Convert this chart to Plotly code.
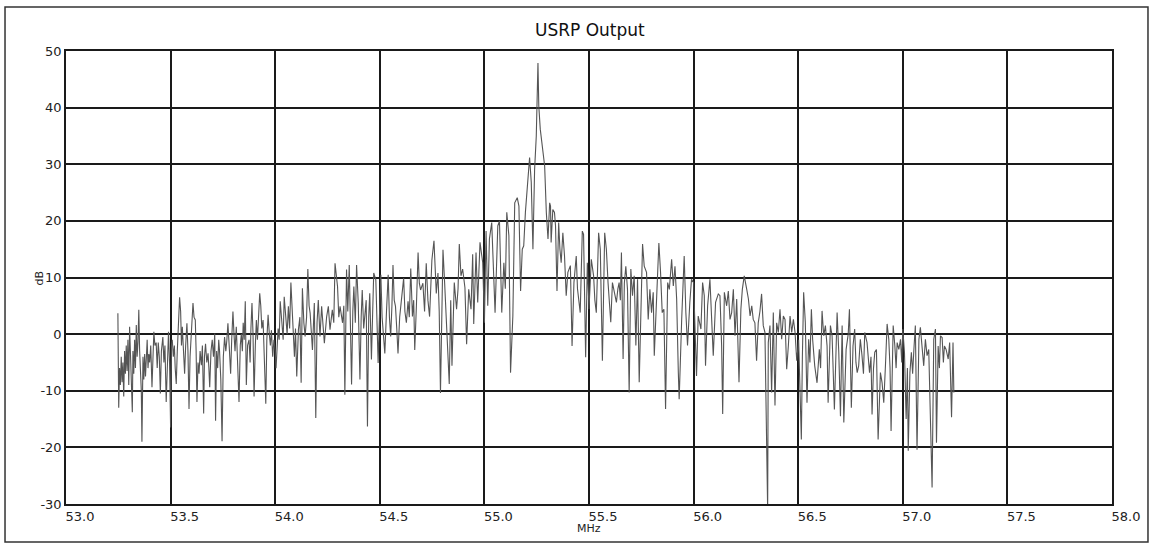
import numpy as np
import plotly.graph_objects as go

# USRP receive spectrum, carrier near 55.25 MHz, 4 MHz span.
# Each band: frequency (MHz) and level (dB).
band1_mhz = [
    53.248, 53.252, 53.256, 53.260, 53.264, 53.268, 53.272, 53.276, 53.280, 53.284,
    53.288, 53.292, 53.296, 53.300, 53.304, 53.310, 53.317, 53.320, 53.324, 53.328,
    53.332, 53.336, 53.340, 53.344, 53.348, 53.352, 53.356, 53.360, 53.363, 53.368,
    53.372, 53.376, 53.380, 53.384, 53.388, 53.392, 53.396, 53.400, 53.405, 53.411,
    53.416, 53.420, 53.425, 53.431, 53.436, 53.441, 53.446, 53.451, 53.456, 53.463,
    53.468, 53.473, 53.479, 53.484, 53.490, 53.495, 53.500, 53.504, 53.508, 53.513,
    53.518, 53.522, 53.527, 53.532, 53.538, 53.543, 53.548, 53.552, 53.556, 53.562,
    53.567, 53.572, 53.578, 53.583, 53.588, 53.593, 53.598, 53.603, 53.607, 53.612,
    53.618, 53.622, 53.626, 53.631, 53.636, 53.641, 53.647, 53.652, 53.658, 53.662,
    53.667, 53.673, 53.679, 53.683, 53.687, 53.693, 53.699, 53.705, 53.711, 53.715,
    53.720, 53.725, 53.730, 53.734, 53.740, 53.746, 53.752, 53.758, 53.764, 53.769,
    53.774, 53.780, 53.787, 53.792, 53.798, 53.803, 53.808, 53.814, 53.820, 53.827,
    53.833, 53.838, 53.843, 53.847, 53.852, 53.857, 53.862, 53.868, 53.875, 53.880,
    53.884, 53.889, 53.894, 53.899, 53.905, 53.910, 53.915, 53.920, 53.926, 53.931,
    53.936, 53.942, 53.948, 53.955, 53.960, 53.966, 53.972, 53.977, 53.982, 53.988,
    53.994,
]
band1_db = [
    3.7, -13.0, -6.0, -9.0, -4.0, -8.5, -5.0, -11.0, -3.0, -7.0,
    -2.0, -6.5, -1.0, -9.0, 1.3, -5.0, -13.8, -3.0, -7.0, -1.0,
    -6.0, 1.6, -4.0, -1.5, 4.3, -3.0, -8.0, -10.0, -19.0, -4.0,
    -8.0, -3.5, -7.5, -5.0, -1.0, -6.0, -3.5, -5.0, -2.0, -9.4,
    -3.0, 0.4, -2.0, -1.5, -6.0, -1.5, -4.0, -10.5, -3.0, -0.5,
    -5.0, -2.0, -12.0, -4.0, 0.4, -5.0, -16.5, -2.0, -1.0, -4.0,
    -2.0, -6.0, -8.8, -3.0, 1.0, 6.5, 4.0, -2.0, 1.3, -4.0,
    -7.0, -2.0, 1.9, -3.0, -13.2, -4.0, -1.0, 3.0, 5.5, 3.0,
    2.5, -3.0, -12.0, -5.0, -7.0, -3.0, -5.5, -2.0, -14.0, -4.0,
    -1.7, -5.0, -3.4, -6.0, -9.4, -3.0, -1.0, -4.0, 0.1, -15.3,
    -3.0, -6.0, -1.0, -3.0, -8.0, -18.9, -4.0, -0.5, -3.0, -1.0,
    1.9, -2.0, -7.0, -1.0, 4.0, 0.0, -3.0, 1.3, -4.0, -12.0,
    -2.0, 0.0, -3.0, 2.0, -1.0, 5.8, -9.0, -2.0, -1.0, -5.0,
    1.0, 5.5, 0.0, -11.0, -2.0, 2.5, -1.0, 3.0, 7.2, 5.0,
    1.0, 2.5, -3.0, -12.3, -1.0, 3.4, 0.0, -2.0, 0.7, -4.0,
    -1.0,
]

band2_mhz = [
    54.000, 54.004, 54.008, 54.014, 54.019, 54.024, 54.032, 54.038, 54.043, 54.052,
    54.057, 54.063, 54.069, 54.075, 54.084, 54.092, 54.097, 54.103, 54.111, 54.118,
    54.124, 54.130, 54.137, 54.143, 54.150, 54.156, 54.162, 54.167, 54.178, 54.183,
    54.187, 54.194, 54.200, 54.206, 54.214, 54.222, 54.228, 54.235, 54.246, 54.254,
    54.262, 54.273, 54.280, 54.286, 54.298, 54.304, 54.310, 54.322, 54.328, 54.333,
    54.341, 54.347, 54.354, 54.360, 54.365, 54.371, 54.376, 54.383, 54.389, 54.397,
    54.405, 54.411, 54.416, 54.423, 54.429, 54.435, 54.441, 54.447, 54.452, 54.460,
    54.466, 54.471, 54.481, 54.487, 54.492, 54.499, 54.505, 54.511, 54.516, 54.524,
    54.532, 54.540, 54.546, 54.552, 54.558, 54.563, 54.569, 54.575, 54.581, 54.587,
    54.595, 54.603, 54.614, 54.620, 54.627, 54.635, 54.641, 54.648, 54.656, 54.662,
    54.667, 54.675, 54.683, 54.689, 54.695, 54.706, 54.714, 54.722, 54.730, 54.738,
    54.744, 54.749, 54.759, 54.765, 54.770, 54.778, 54.784, 54.790, 54.796, 54.802,
    54.810, 54.818, 54.825,
]
band2_db = [
    -3.0, -6.0, -2.0, 1.0, -1.0, 5.8, 2.0, -1.0, 6.6, 2.5,
    0.0, 4.9, 1.0, 9.1, 2.0, -4.0, 1.0, -7.5, 0.8, 3.0,
    -8.6, 8.1, 2.0, -0.4, 3.0, 11.5, 5.0, 3.7, -2.8, 2.0,
    5.5, -14.8, 2.0, 6.0, -0.4, 4.9, 1.0, -1.6, 3.1, 4.9,
    0.8, 4.3, 2.0, 12.5, 8.4, 3.0, 4.9, 2.0, 5.0, -10.7,
    11.4, 4.0, 12.2, 3.0, -8.9, 4.0, 8.4, 2.0, 12.2, 5.5,
    -8.0, 3.0, 7.8, 1.0, 3.7, 6.0, -16.3, 3.0, 7.2, -4.5,
    4.0, 10.8, 9.6, 3.0, -5.1, 4.0, 10.5, 3.0, -0.4, -3.4,
    4.0, 10.5, 3.0, -0.4, 5.0, 12.2, 6.0, 4.9, 1.0, -3.4,
    3.0, 6.0, 9.9, 4.0, 2.0, 5.8, 3.0, 11.6, 3.1, 6.0,
    -2.8, 5.0, 14.4, 9.0, 7.8, 9.0, 4.0, 12.5, 6.0, 3.1,
    8.0, 13.1, 16.5, 10.0, 7.2, 10.8, 4.0, -10.4, 6.0, 14.9,
    9.0, 3.0, -2.8,
]

band3_mhz = [
    54.832, 54.839, 54.845, 54.856, 54.862, 54.867, 54.874, 54.880, 54.888, 54.896,
    54.907, 54.915, 54.925, 54.936, 54.944, 54.949, 54.960, 54.968, 54.979, 54.992,
    55.000, 55.008, 55.016, 55.024, 55.035, 55.043, 55.051, 55.058, 55.064, 55.072,
    55.083, 55.093, 55.100, 55.107, 55.117, 55.125, 55.136, 55.145, 55.157, 55.165,
    55.173, 55.181, 55.188, 55.196, 55.208, 55.216, 55.224, 55.232, 55.240, 55.248,
    55.256, 55.260, 55.267, 55.276, 55.288, 55.296, 55.304, 55.312, 55.316, 55.319,
    55.327, 55.335, 55.340, 55.347, 55.355, 55.361, 55.367, 55.375, 55.383, 55.391,
    55.399, 55.411, 55.419, 55.428, 55.439, 55.445, 55.452, 55.458, 55.468, 55.474,
    55.484, 55.492, 55.500, 55.505, 55.511, 55.522, 55.528, 55.535, 55.546, 55.554,
    55.564, 55.575, 55.583, 55.591, 55.598, 55.604, 55.612, 55.623, 55.631, 55.638,
    55.644, 55.650, 55.655, 55.663, 55.669,
]
band3_db = [
    -8.8, 6.0, -5.6, 9.1, 6.0, 4.4, 8.0, 15.9, 10.3, 11.5,
    8.2, -1.8, 7.9, 4.4, 14.1, 1.8, 14.4, 5.6, 16.2, 12.6,
    2.0, 18.2, 5.0, 16.8, 19.7, 12.1, 3.8, 12.0, 19.1, 20.0,
    3.8, 12.6, 8.0, 21.5, 17.4, -6.8, 3.2, 23.2, 24.1, 22.6,
    7.6, 15.0, 15.6, 21.5, 27.9, 31.2, 26.8, 15.0, 29.1, 35.0,
    47.9, 40.3, 36.2, 33.2, 29.7, 21.5, 16.8, 23.2, 22.6, 16.2,
    22.0, 21.5, 19.1, 7.6, 19.7, 15.0, 12.6, 17.9, 13.8, 6.8,
    10.9, 12.1, -2.1, 9.1, 13.8, 8.0, 5.6, 3.8, 18.2, 17.6,
    -4.1, 12.6, 4.4, 8.0, 13.2, 10.3, 6.0, 3.8, 17.9, 15.0,
    -4.7, 17.9, 15.0, 9.1, 5.0, 2.1, 9.1, 6.8, 5.6, 8.0,
    9.1, 6.0, 14.4, -4.4, 9.0,
]

band4_mhz = [
    55.676, 55.684, 55.692, 55.700, 55.708, 55.716, 55.724, 55.732, 55.740, 55.748,
    55.756, 55.764, 55.775, 55.783, 55.791, 55.799, 55.807, 55.812, 55.823, 55.834,
    55.842, 55.850, 55.858, 55.866, 55.876, 55.884, 55.895, 55.903, 55.911, 55.919,
    55.927, 55.931, 55.943, 55.955, 55.963, 55.971, 55.982, 55.990, 56.000, 56.006,
    56.014, 56.022, 56.035, 56.043, 56.051, 56.057, 56.067, 56.078, 56.086, 56.094,
    56.105, 56.118, 56.126, 56.134, 56.139, 56.147, 56.158, 56.166, 56.174, 56.182,
    56.190, 56.198, 56.206, 56.217, 56.226, 56.233, 56.242, 56.249, 56.254, 56.262,
    56.270, 56.278, 56.285, 56.293, 56.301, 56.309, 56.317, 56.325, 56.333, 56.341,
    56.349, 56.354, 56.357, 56.365, 56.373, 56.381, 56.389, 56.397, 56.405, 56.413,
    56.421, 56.429, 56.437, 56.445, 56.453, 56.461, 56.469, 56.477, 56.485, 56.493,
]
band4_db = [
    12.0, 7.9, -10.3, 11.5, 6.8, 10.3, -2.0, 9.7, -8.5, 5.0,
    15.9, 12.0, 10.9, 2.6, 7.9, 3.8, 7.4, -3.8, 7.4, 16.1,
    10.9, 3.8, 4.4, -13.2, 9.1, 7.9, 13.2, 8.5, 12.0, 6.2,
    -6.8, -11.5, 2.6, 13.8, 3.8, -2.0, 5.6, 9.7, 9.1, 1.5,
    -7.4, 3.2, 0.9, 9.1, 6.8, -5.6, 5.0, 9.7, 3.2, -3.8,
    5.6, 7.1, 6.8, -2.0, -14.1, 7.4, 5.0, 7.6, 2.6, 3.8,
    7.9, -0.3, 6.2, -8.5, 4.4, 7.9, 10.3, 9.1, 7.9, 6.2,
    3.2, 5.0, 2.6, 2.0, -4.7, 2.0, 4.0, 7.1, 1.5, 0.3,
    -16.5, -31.0, -1.5, 1.5, -10.3, 3.8, -12.6, 2.0, 0.3, 4.4,
    -0.9, 3.2, 2.6, -6.2, -2.0, 3.2, 0.3, 2.6, 0.3, -4.7,
]

band5_mhz = [
    56.502, 56.507, 56.515, 56.520, 56.526, 56.534, 56.542, 56.550, 56.556, 56.563,
    56.569, 56.579, 56.590, 56.601, 56.607, 56.614, 56.622, 56.630, 56.638, 56.643,
    56.654, 56.662, 56.668, 56.673, 56.680, 56.686, 56.694, 56.702, 56.710, 56.718,
    56.729, 56.739, 56.745, 56.754, 56.762, 56.770, 56.776, 56.782, 56.789, 56.797,
    56.805, 56.812, 56.818, 56.829, 56.841, 56.848, 56.853, 56.860, 56.866, 56.874,
    56.882, 56.893, 56.901, 56.909, 56.917, 56.925, 56.933, 56.939, 56.944, 56.954,
    56.962, 56.968, 56.973, 56.981, 56.989, 56.995, 57.000, 57.008, 57.016, 57.022,
    57.026, 57.034, 57.041, 57.047, 57.053, 57.060, 57.068, 57.077, 57.084, 57.093,
    57.100, 57.108, 57.116, 57.124, 57.132, 57.140, 57.148, 57.156, 57.161, 57.169,
    57.175, 57.180, 57.188, 57.194, 57.199, 57.207, 57.217, 57.224, 57.233, 57.240,
    57.244,
]
band5_db = [
    -1.0, -10.0, -18.6, -4.0, 7.4, 2.1, -12.1, -0.9, -5.0, 4.4,
    -0.9, -5.6, -8.6, -2.7, -6.0, 4.1, -0.3, 1.5, -2.1, -12.1,
    1.5, -0.3, -6.0, -13.3, -4.0, 3.8, -3.2, -14.5, 1.5, -15.6,
    -2.7, 0.0, 4.4, -13.0, -2.1, 0.9, -5.0, -6.8, -5.6, -0.9,
    -3.8, -7.0, 0.3, -1.5, -6.8, -4.0, -14.2, -6.0, -3.2, -2.7,
    -18.6, -6.8, -8.6, -12.1, -5.6, 1.8, -0.9, -6.0, -17.1, 1.5,
    -2.1, -6.0, -1.5, -2.7, -0.9, -5.0, 0.9, -3.2, -15.0, -6.0,
    -20.6, -6.8, -3.2, -7.0, -2.7, 1.5, -20.4, -0.9, 1.2, -3.2,
    -5.6, -0.9, -3.8, -2.7, -16.8, -27.1, -0.9, 0.9, -19.2, -2.1,
    -6.0, -0.3, -0.6, -5.0, -2.1, -2.7, -4.4, -1.5, -14.7, -1.5,
    -10.3,
]

x_ticks = [53.0, 53.5, 54.0, 54.5, 55.0, 55.5, 56.0, 56.5, 57.0, 57.5, 58.0]
y_ticks = [-30, -20, -10, 0, 10, 20, 30, 40, 50]

freq = np.concatenate([band1_mhz, band2_mhz, band3_mhz, band4_mhz, band5_mhz])
level = np.concatenate([band1_db, band2_db, band3_db, band4_db, band5_db])

fig = go.Figure()
fig.add_trace(go.Scatter(
    x=freq, y=level, mode="lines",
    line=dict(color="#555555", width=1.1),
    hoverinfo="skip", showlegend=False,
))

font = "DejaVu Sans, Liberation Sans, sans-serif"
axis_common = dict(
    showgrid=True, gridcolor="#1a1a1a", gridwidth=1.5,
    showline=True, linecolor="#1a1a1a", linewidth=1.5, mirror=True,
    zeroline=False, ticks="",
    tickfont=dict(family=font, size=13, color="#222"),
)

fig.update_layout(
    width=1152, height=544,
    margin=dict(l=66, r=40, t=51, b=40),
    paper_bgcolor="white", plot_bgcolor="white",
    title=dict(text="USRP Output", x=0.512, xanchor="center",
               y=0.945, yanchor="middle",
               font=dict(family=font, size=17, color="#111")),
    xaxis=dict(range=[53.0, 58.0], tickvals=x_ticks,
               ticktext=[f"{v:.1f}" for v in x_ticks],
               ticklabelshift=14, ticklabelstandoff=0, **axis_common),
    yaxis=dict(range=[-30, 50], tickvals=y_ticks,
               ticktext=[str(v) for v in y_ticks],
               ticklabelstandoff=0, **axis_common),
    shapes=[dict(type="rect", xref="paper", yref="paper",
                 x0=-0.0583, x1=1.0344, y0=-0.0839, y1=1.0971,
                 line=dict(color="#333", width=1.5), layer="below")],
    annotations=[
        dict(text="MHz", xref="paper", yref="paper", x=0.5, y=-0.053,
             xanchor="center", yanchor="middle", showarrow=False,
             font=dict(family=font, size=11, color="#222")),
        dict(text="dB", xref="paper", yref="paper", x=-0.0249, y=0.5,
             xanchor="center", yanchor="middle", showarrow=False, textangle=-90,
             font=dict(family=font, size=11, color="#222")),
    ],
)

fig.write_html("out.html")
